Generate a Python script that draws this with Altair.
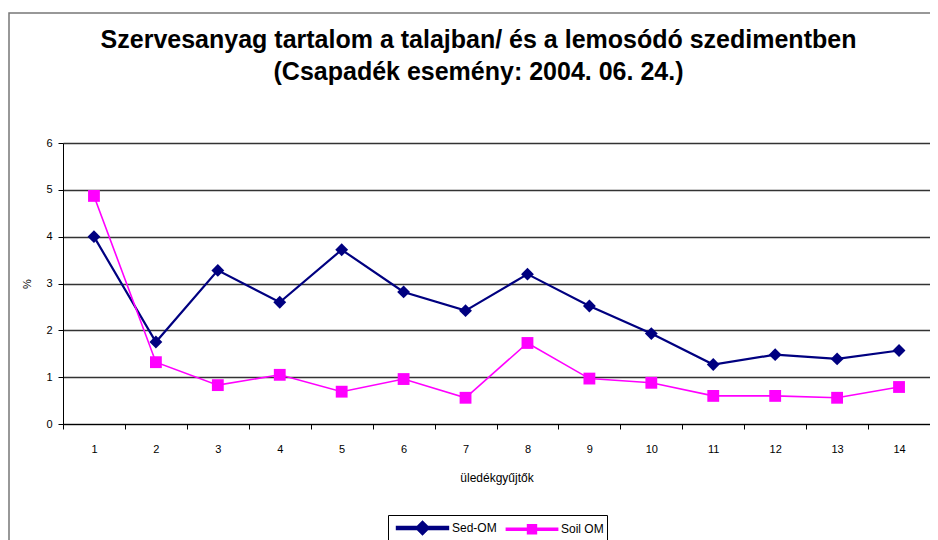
import altair as alt
import pandas as pd

categories = [str(i) for i in range(1, 15)]
sed_om = [4.0, 1.75, 3.28, 2.6, 3.72, 2.82, 2.42, 3.2, 2.52, 1.93, 1.27, 1.48, 1.39, 1.57]
soil_om = [4.87, 1.32, 0.83, 1.05, 0.69, 0.96, 0.56, 1.73, 0.97, 0.88, 0.6, 0.6, 0.56, 0.79]
series_names = ["Sed-OM", "Soil OM"]
series_colors = ["#000080", "#FF00FF"]
title_lines = ["Szervesanyag tartalom a talajban/ és a lemosódó szedimentben",
               "(Csapadék esemény: 2004. 06. 24.)"]

rows = []
for c, v in zip(categories, sed_om):
    rows.append({"gyujto": c, "ertek": v, "series": series_names[0]})
for c, v in zip(categories, soil_om):
    rows.append({"gyujto": c, "ertek": v, "series": series_names[1]})
df = pd.DataFrame(rows)

FONT = "Liberation Sans"

x_enc = alt.X("gyujto:N", sort=categories,
              scale=alt.Scale(paddingInner=0, paddingOuter=0),
              axis=alt.Axis(title="üledékgyűjtők", labelAngle=0, tickBand="extent",
                            domainColor="#000", tickColor="#000", tickSize=5,
                            labelPadding=14, titlePadding=18, labelFontSize=11,
                            titleFontSize=12, titleFontWeight="normal", grid=False,
                            labelColor="#000", titleColor="#000"))
y_enc = alt.Y("ertek:Q", scale=alt.Scale(domain=[0, 6], nice=False),
              axis=alt.Axis(title="%", values=[0, 1, 2, 3, 4, 5, 6], tickSize=5,
                            domainColor="#000", tickColor="#000", labelPadding=6,
                            titlePadding=13, labelFontSize=11, titleFontSize=11,
                            titleFontWeight="normal", gridColor="#333", gridWidth=1.5,
                            labelColor="#000", titleColor="#000"))
color_scale = alt.Scale(domain=series_names, range=series_colors)

# legend symbols: a line with the marker in the middle (path extends beyond unit box)
sed_path = "M-3.2,-0.15L3.2,-0.15L3.2,0.15L-3.2,0.15Z M0,-0.78L0.78,0L0,0.78L-0.78,0Z"
soil_path = "M-3.2,-0.12L3.2,-0.12L3.2,0.12L-3.2,0.12Z M-0.55,-0.55L0.55,-0.55L0.55,0.55L-0.55,0.55Z"

legend_def = alt.Legend(title=None, orient="none", legendX=325, legendY=372,
                        direction="horizontal", symbolSize=256, symbolOffset=22,
                        symbolStrokeWidth=0, symbolOpacity=1,
                        labelFontSize=12, labelOffset=20, columnPadding=4,
                        padding=3, strokeColor="#000", fillColor="#fff",
                        labelColor="#000", labelFont=FONT)

base = alt.Chart(df)

lines = base.mark_line().encode(
    x=x_enc, y=y_enc,
    color=alt.Color("series:N", scale=color_scale, legend=legend_def),
    strokeWidth=alt.StrokeWidth("series:N", scale=alt.Scale(domain=series_names, range=[2.2, 1.6]), legend=None),
)

pts_sed = base.transform_filter(alt.datum.series == series_names[0]).mark_point(
    shape="diamond", filled=True, size=165, opacity=1).encode(
    x=x_enc, y=y_enc, color=alt.Color("series:N", scale=color_scale, legend=legend_def))

pts_soil = base.transform_filter(alt.datum.series == series_names[1]).mark_point(
    shape="square", filled=True, size=140, opacity=1).encode(
    x=x_enc, y=y_enc, color=alt.Color("series:N", scale=color_scale, legend=legend_def))

legend_layer = base.transform_filter("false").mark_point(filled=True, opacity=1).encode(
    x=x_enc, y=y_enc,
    color=alt.Color("series:N", scale=color_scale, legend=legend_def),
    shape=alt.Shape("series:N", scale=alt.Scale(domain=series_names, range=[sed_path, soil_path]),
                    legend=legend_def),
)

frame = alt.Chart(pd.DataFrame({"a": [0]})).mark_rect(fill=None, stroke="#777", strokeWidth=1.5).encode(
    x=alt.value(-54), x2=alt.value(880), y=alt.value(-130), y2=alt.value(420))

chart = alt.layer(frame, lines, pts_sed, pts_soil, legend_layer).properties(
    width=867, height=281,
    autosize=alt.AutoSizeParams(type="none"),
    padding={"left": 55, "top": 135, "right": 0, "bottom": 117},
    title=alt.TitleParams(text=title_lines, fontSize=25, lineHeight=32, font=FONT,
                          fontWeight="bold", anchor="middle", offset=-73, dx=-18,
                          color="#000", frame="group"),
).configure(font=FONT).configure_view(stroke=None).configure_axis(
    labelFont=FONT, titleFont=FONT)

chart.save("out.html", embed_options={"renderer": "svg", "actions": False})
